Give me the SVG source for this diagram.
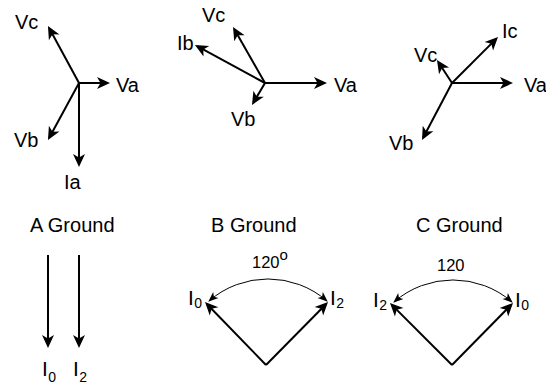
<svg xmlns="http://www.w3.org/2000/svg" width="546" height="387" viewBox="0 0 546 387">
<style>
  text { font-family: "Liberation Sans", Arial, sans-serif; fill: #000; }
  .lbl { font-size: 20px; }
  .big { font-size: 21px; }
  .ttl { font-size: 20px; }
  .ang { font-size: 16.5px; }
  .sub { font-size: 14px; }
  .vec { stroke: #000; stroke-width: 2; fill: none; marker-end: url(#ah); }
  .arc { stroke: #000; stroke-width: 1; fill: none; marker-start: url(#sah); marker-end: url(#sah); }
</style>
<defs>
  <marker id="ah" markerUnits="userSpaceOnUse" markerWidth="16" markerHeight="14" refX="10" refY="6" orient="auto" overflow="visible">
    <path d="M13,6 L0,0 L3.5,6 L0,12 Z" fill="#000"/>
  </marker>
  <marker id="sah" markerUnits="userSpaceOnUse" markerWidth="12" markerHeight="10" refX="9" refY="4.5" orient="auto-start-reverse" overflow="visible">
    <path d="M10,4.5 L0,0.5 L2.5,4.5 L0,8.5 Z" fill="#000"/>
  </marker>
</defs>

<g id="connectors">
  <!-- Diagram 1 -->
  <line class="vec" x1="79" y1="83" x2="107" y2="83"/>
  <line class="vec" x1="79" y1="83" x2="49.4" y2="28.6"/>
  <line class="vec" x1="79" y1="83" x2="49.4" y2="137.4"/>
  <line class="vec" x1="79" y1="83" x2="79" y2="164"/>
  <!-- Diagram 2 -->
  <line class="vec" x1="265" y1="83" x2="324" y2="83"/>
  <line class="vec" x1="265" y1="83" x2="234.5" y2="29.6"/>
  <line class="vec" x1="265" y1="83" x2="197.6" y2="46.4"/>
  <line class="vec" x1="265" y1="83" x2="253.5" y2="102.4"/>
  <!-- Diagram 3 -->
  <line class="vec" x1="452" y1="83" x2="510" y2="83"/>
  <line class="vec" x1="452" y1="83" x2="495.9" y2="39.1"/>
  <line class="vec" x1="452" y1="83" x2="438.6" y2="62.5"/>
  <line class="vec" x1="452" y1="83" x2="423.4" y2="137.3"/>
  <!-- A Ground -->
  <line class="vec" x1="48" y1="255" x2="48" y2="345"/>
  <line class="vec" x1="79" y1="255" x2="79" y2="345"/>
  <!-- B Ground -->
  <line class="vec" x1="266" y1="365" x2="207.1" y2="304.2"/>
  <line class="vec" x1="266" y1="365" x2="325.9" y2="304.2"/>
  <path class="arc" d="M209,301 A90 90 0 0 1 327,301"/>
  <!-- C Ground -->
  <line class="vec" x1="452" y1="365" x2="392.1" y2="305.1"/>
  <line class="vec" x1="452" y1="365" x2="510.9" y2="305.1"/>
  <path class="arc" d="M394,302 A90 90 0 0 1 512,302"/>
</g>

<g id="diagram-a-labels">
  <text class="lbl" x="15" y="29">Vc</text>
  <text class="lbl" x="116" y="92">Va</text>
  <text class="lbl" x="14" y="147">Vb</text>
  <text class="lbl" x="64" y="189">Ia</text>
</g>
<g id="diagram-b-labels">
  <text class="lbl" x="202" y="22">Vc</text>
  <text class="lbl" x="177" y="50">Ib</text>
  <text class="lbl" x="334" y="92">Va</text>
  <text class="lbl" x="231" y="126">Vb</text>
</g>
<g id="diagram-c-labels">
  <text class="lbl" x="502" y="38">Ic</text>
  <text class="lbl" x="414" y="62">Vc</text>
  <text class="lbl" x="524" y="92">Va</text>
  <text class="lbl" x="389" y="150">Vb</text>
</g>

<g id="a-ground">
  <text class="ttl" x="30" y="232">A Ground</text>
  <text class="big" x="42" y="376">I<tspan class="sub" dy="6" dx="0.5">0</tspan></text>
  <text class="big" x="73" y="376">I<tspan class="sub" dy="6" dx="0.5">2</tspan></text>
</g>
<g id="b-ground">
  <text class="ttl" x="211" y="232">B Ground</text>
  <text class="ang" x="252" y="268">120<tspan font-size="15" dy="-8">o</tspan></text>
  <text class="big" x="188" y="305">I<tspan class="sub" font-size="13" dy="3" dx="0.5">0</tspan></text>
  <text class="big" x="330" y="305">I<tspan class="sub" font-size="13" dy="3" dx="0.5">2</tspan></text>
</g>
<g id="c-ground">
  <text class="ttl" x="416" y="232">C Ground</text>
  <text class="ang" x="437" y="271">120</text>
  <text class="big" x="373" y="307">I<tspan class="sub" font-size="13" dy="3" dx="0.5">2</tspan></text>
  <text class="big" x="515" y="307">I<tspan class="sub" font-size="13" dy="3" dx="0.5">0</tspan></text>
</g>
</svg>
